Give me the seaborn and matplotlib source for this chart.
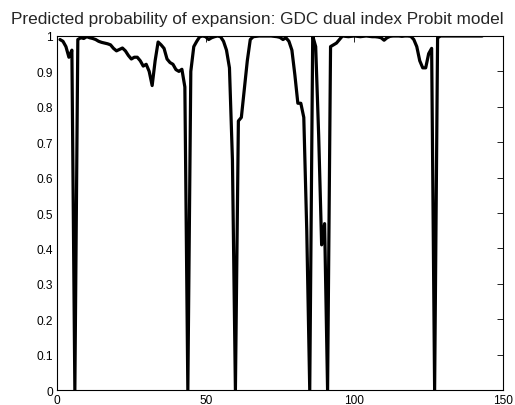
import numpy as np
import pandas as pd
import matplotlib
matplotlib.use("Agg")
import matplotlib.pyplot as plt
import seaborn as sns

# ========== 数据 ==========
period = list(range(1, 144))
prob = [
    0.990, 0.985, 0.970, 0.940, 0.960, 0.000, 0.990, 0.995, 0.993, 0.998,   # 1-10
    0.995, 0.993, 0.990, 0.985, 0.982, 0.980, 0.978, 0.975, 0.965, 0.958,   # 11-20
    0.962, 0.966, 0.958, 0.945, 0.935, 0.940, 0.940, 0.930, 0.915, 0.920,   # 21-30
    0.900, 0.860, 0.930, 0.983, 0.975, 0.965, 0.935, 0.925, 0.920, 0.905,   # 31-40
    0.900, 0.906, 0.856, 0.000, 0.900, 0.970, 0.985, 0.998, 1.000, 0.998,   # 41-50
    0.990, 0.995, 0.998, 1.000, 0.998, 0.985, 0.960, 0.910, 0.650, 0.000,   # 51-60
    0.760, 0.770, 0.850, 0.930, 0.990, 0.998, 0.999, 1.000, 1.000, 1.000,   # 61-70
    1.000, 1.000, 0.999, 0.998, 0.996, 0.990, 0.995, 0.985, 0.960, 0.890,   # 71-80
    0.810, 0.810, 0.770, 0.450, 0.000, 1.000, 0.970, 0.720, 0.410, 0.470,   # 81-90
    0.000, 0.970, 0.975, 0.980, 0.990, 1.000, 0.999, 0.998, 0.999, 1.000,   # 91-100
    0.999, 0.998, 0.999, 1.000, 0.999, 0.998, 0.998, 0.997, 0.995, 0.988,   # 101-110
    0.995, 0.999, 1.000, 1.000, 1.000, 0.999, 1.000, 1.000, 0.999, 0.990,   # 111-120
    0.970, 0.930, 0.910, 0.910, 0.950, 0.965, 0.000, 0.995, 1.000, 1.000,   # 121-130
    1.000, 1.000, 1.000, 1.000, 1.000, 1.000, 1.000, 1.000, 1.000, 1.000,   # 131-140
    1.000, 1.000, 1.000,                                                    # 141-143
]
x_ticks = [0, 50, 100, 150]
y_ticks = [0, 0.1, 0.2, 0.3, 0.4, 0.5, 0.6, 0.7, 0.8, 0.9, 1]
y_ticklabels = ['0', '0.1', '0.2', '0.3', '0.4', '0.5', '0.6', '0.7', '0.8', '0.9', '1']
title = 'Predicted probability of expansion: GDC dual index Probit model'

df = pd.DataFrame({'period': period, 'prob': prob})

# ========== 样式 ==========
sns.set_style('white')
plt.rcParams['font.family'] = ['Liberation Sans', 'DejaVu Sans']

fig = plt.figure(figsize=(5.15, 4.06), dpi=100)
ax = fig.add_axes([0.1107, 0.0369, 0.866, 0.872])

sns.lineplot(data=df, x='period', y='prob', ax=ax, color='black', linewidth=2.3)

ax.set_xlim(0, 150)
ax.set_ylim(0, 1)
ax.set_xticks(x_ticks)
ax.set_xticklabels([str(t) for t in x_ticks])
ax.set_yticks(y_ticks)
ax.set_yticklabels(y_ticklabels)
ax.set_xlabel('')
ax.set_ylabel('')
ax.tick_params(direction='in', length=4, width=0.6, labelsize=8.6, pad=3,
               top=True, right=True, colors='black')
for s in ax.spines.values():
    s.set_color('black')
    s.set_linewidth(0.8)

# 标题居中于整张图
fig.text(0.5, 0.941, title, ha='center', va='baseline', fontsize=12.4)

plt.savefig('out.png', dpi=100)
